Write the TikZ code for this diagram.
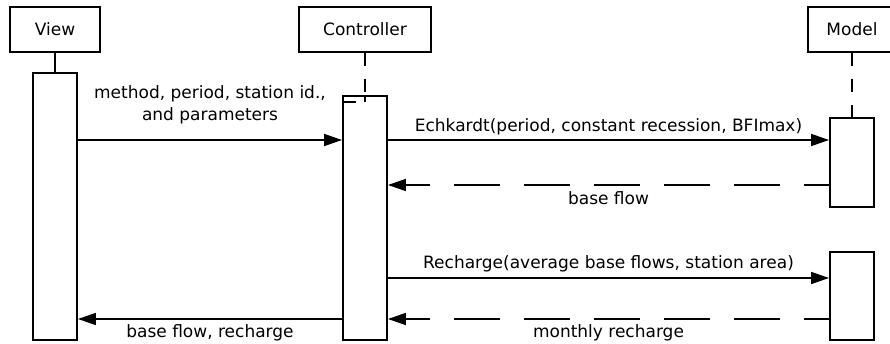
\documentclass[tikz,border=0pt]{standalone}
\usepackage{fontspec}
\setmainfont{DejaVu Sans}
\usetikzlibrary{arrows.meta, positioning}

\begin{document}
\begin{tikzpicture}[x=1pt, y=-1pt,
    font=\fontsize{17}{22}\selectfont,
    head/.style={draw, line width=1.9pt, minimum height=45pt, inner sep=0pt},
    act/.style={draw, fill=white, line width=1.9pt, minimum width=44pt, inner sep=0pt},
    call/.style={line width=1.6pt, -{Triangle[length=18pt, width=12pt]}},
    ret/.style={call, dash pattern=on 46pt off 24pt, dash phase=21pt},
    life/.style={line width=1.9pt, dash pattern=on 13pt off 13pt}]
    \clip (0,0) rectangle (890,344);

    \node[head, minimum width=90pt] (view) at (55,29.5) {View};
    \node[head, minimum width=132pt] (ctrl) at (365,29.5) {Controller};
    \node[head, minimum width=88pt] (model) at (852,29.5) {Model};

    \node[act, minimum height=267pt] (vact) at (55,206.5) {};
    \node[act, minimum height=244pt] (cact) at (365,218) {};
    \node[act, minimum height=89pt] (mact1) at (852,162.5) {};
    \node[act, minimum height=88pt] (mact2) at (852,296) {};

    \draw[line width=1.9pt] (view) -- (vact);
    \draw[life] (ctrl) -- (cact);
    \draw[life] (model) -- (mact1);
    \draw[line width=1.9pt]
    (cact.north) -- ++(0,7)
    (cact.north west) ++(0,7) -- ++(14,0);

    \draw[call] (vact.east |- 0,140) -- node[above=12pt, align=center] {method, period, station id.,\\and parameters} (cact.west |- 0,140);
    \draw[call] (cact.east |- 0,140) -- node[above=1pt] {Echkardt(period, constant recession, BFImax)} (mact1.west |- 0,140);
    \draw[ret] (mact1.west |- 0,185) -- node[below=2pt] {base flow} (cact.east |- 0,185);
    \draw[call] (cact.east |- 0,278) -- node[above=2pt] {Recharge(average base flows, station area)} (mact2.west |- 0,278);
    \draw[ret] (mact2.west |- 0,319) -- node[below=1pt] {monthly recharge} (cact.east |- 0,319);
    \draw[call] (cact.west |- 0,319) -- node[below=1pt] {base flow, recharge} (vact.east |- 0,319);
\end{tikzpicture}
\end{document}
